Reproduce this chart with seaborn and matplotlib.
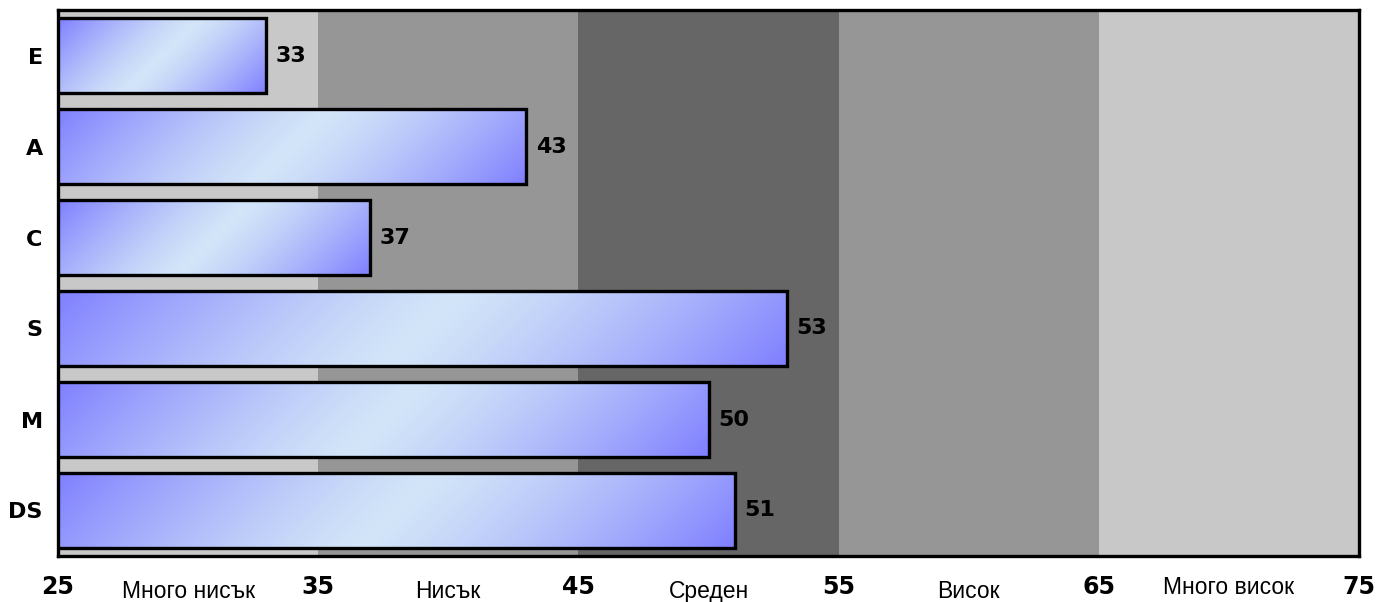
import matplotlib
matplotlib.use('Agg')
import matplotlib.pyplot as plt
import seaborn as sns
import numpy as np
from matplotlib.colors import to_rgb

# Data
categories = ['E', 'A', 'C', 'S', 'M', 'DS']
scores = [33, 43, 37, 53, 50, 51]
band_edges = [25, 35, 45, 55, 65, 75]
band_names = ['Много нисък', 'Нисък', 'Среден', 'Висок', 'Много висок']
band_colors = ['#c8c8c8', '#969696', '#666666', '#969696', '#c8c8c8']

sns.set_style('white')
plt.rcParams['font.family'] = ['DejaVu Sans']
plt.rcParams['text.color'] = 'black'
plt.rcParams['xtick.color'] = 'black'
plt.rcParams['ytick.color'] = 'black'

fig = plt.figure(figsize=(13.82, 6.02), dpi=100)
ax = fig.add_axes([58 / 1382, 1 - 556 / 602, (1359 - 58) / 1382, (556 - 10) / 602])

# background bands
for i, c in enumerate(band_colors):
    ax.axvspan(band_edges[i], band_edges[i + 1], color=c, zorder=0, lw=0)

sns.barplot(x=scores, y=categories, orient='h', ax=ax, width=0.82,
            facecolor='none', edgecolor='black', linewidth=2.4, zorder=3)

xmin, xmax = band_edges[0], band_edges[-1]
ax.set_xlim(xmin, xmax)
ylim = ax.get_ylim()
ax.set_ylim(ylim)  # freeze limits so imshow does not rescale

# diagonal gradient fill for each bar (blue - light - blue, 45 deg in pixels)
blue = np.array(to_rgb('#7f7fff'))
light = np.array(to_rgb('#d2e5f8'))
bars = ax.containers[0]
for p in bars:
    x0 = max(p.get_x(), xmin)
    x1 = p.get_x() + p.get_width()
    y0 = p.get_y()
    y1 = y0 + p.get_height()
    (px0, py0), (px1, py1) = ax.transData.transform([(x0, y0), (x1, y1)])
    w_px, h_px = abs(px1 - px0), abs(py1 - py0)
    nx, ny = int(w_px) + 1, int(h_px) + 1
    xx = np.linspace(0, w_px, nx)[None, :]
    yy = np.linspace(0, h_px, ny)[:, None]
    s = (xx + yy) / (w_px + h_px)
    t = np.abs(2 * s - 1) ** 1.3
    grad = light[None, None, :] + (blue - light)[None, None, :] * t[:, :, None]
    im = ax.imshow(grad, extent=(x0, x1, y1, y0), origin='upper',
                   aspect='auto', zorder=2, interpolation='bilinear')
    im.set_clip_path(p)

ax.set_xlim(xmin, xmax)
ax.set_ylim(ylim)

ax.bar_label(bars, padding=7, fontsize=16, fontweight='bold', color='black')

ax.set_xticks(band_edges)
ax.set_xticklabels([str(b) for b in band_edges], fontsize=17, fontweight='bold')
ax.tick_params(axis='x', length=0, pad=14)
ax.tick_params(axis='y', length=0, pad=11, labelsize=16)
for lbl in ax.get_yticklabels():
    lbl.set_fontweight('bold')
ax.set_xlabel('')
ax.set_ylabel('')

# band names between the ticks
trans = ax.get_xaxis_transform()
for i, name in enumerate(band_names):
    mid = (band_edges[i] + band_edges[i + 1]) / 2
    yy = -0.077 if i < len(band_names) - 1 else -0.069
    ax.text(mid, yy, name, transform=trans, ha='center', va='baseline',
            fontsize=16.5, family='Liberation Sans')

for s in ax.spines.values():
    s.set_visible(True)
    s.set_color('black')
    s.set_linewidth(2.4)
    s.set_zorder(5)

fig.savefig('out.png', dpi=100)
